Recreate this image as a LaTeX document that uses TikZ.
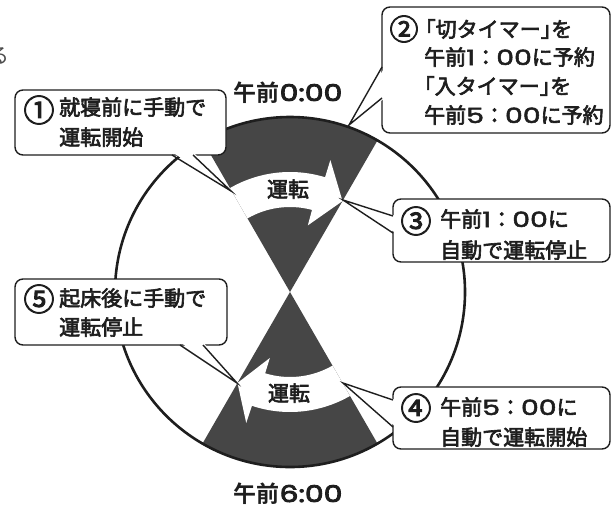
\documentclass[tikz,border=0pt]{standalone}
\usepackage{fontspec}
\usetikzlibrary{calc}
\setmainfont{Noto Sans CJK JP}[FakeBold=3]
\newfontfamily\jph{Noto Sans CJK JP}[FakeBold=3,RawFeature=+halt]
\newfontfamily\jpbold{Noto Sans CJK JP Bold}
\newfontfamily\jplight{Noto Sans CJK JP}
\newfontfamily\numf{Poppins}[FakeStretch=1.35,FakeBold=2.5]
\newfontfamily\numfb{Poppins}[FakeStretch=1.3,FakeBold=4]
\newcommand\dg[1]{{\numf #1}}
\newcommand\dgb[1]{{\numfb #1}}
\newcommand\hb[1]{{\jph #1}}
\definecolor{dk}{RGB}{70,70,70}
\definecolor{ink}{RGB}{30,30,30}
\tikzset{
  cbox/.style={draw=ink, line width=1.4pt, fill=white, rounded corners=8pt, rectangle, inner sep=0pt},
  tail/.style={draw=ink, line width=1.4pt, line join=miter},
  txt/.style={anchor=base west, inner sep=0pt, text=ink, font=\fontsize{21}{30}\selectfont},
  num/.style={anchor=center, inner sep=0pt, text=ink, font=\fontsize{31}{31}\selectfont},
  lbl/.style={anchor=base, inner sep=0pt, text=ink, font=\jpbold\fontsize{23}{28}\selectfont},
}
\begin{document}
\begin{tikzpicture}[x=1pt,y=-1pt]
\useasboundingbox (0,0) rectangle (616,509);
\coordinate (O) at (290,292);
% fragment
\node[anchor=base east, inner sep=0pt, text=ink!80, font=\jplight\fontsize{21}{21}\selectfont] (frag) at (10,63) {る};
% sectors
\fill[dk] (O) -- ++(-120:175) arc[start angle=-120,end angle=-60,radius=175] -- cycle;
\fill[dk] (O) -- ++(60:175) arc[start angle=60,end angle=120,radius=175] -- cycle;
% white arrow bands
\fill[white] ($(O)+(-120:120)$) arc[start angle=-120,end angle=-73,radius=120]
  -- ($(O)+(-73:138)$) -- ($(O)+(-60:105)$) -- ($(O)+(-75:69)$) -- ($(O)+(-75:85)$)
  arc[start angle=-75,end angle=-120,radius=85] -- cycle;
\fill[white] ($(O)+(60:120)$) arc[start angle=60,end angle=108.5,radius=120]
  -- ($(O)+(108.5:138)$) -- ($(O)+(120:105)$) -- ($(O)+(107:69)$) -- ($(O)+(107:85)$)
  arc[start angle=107,end angle=60,radius=85] -- cycle;
% circle
\draw[ink, line width=2.6pt] (O) circle[radius=175];
% band labels
\node[txt, anchor=base] (run1) at (288,197) {運転};
\node[txt, anchor=base] (run2) at (289,401) {運転};
% time labels
\node[lbl] (t0) at (288,101) {午前\dgb{0:00}};
\node[lbl] (t6) at (288,502) {午前\dgb{6:00}};
% callout boxes
\node[cbox, minimum width=211pt, minimum height=65pt] (b1) at (120.5,122.5) {};
\node[cbox, minimum width=228pt, minimum height=126pt] (b2) at (496,70) {};
\node[cbox, minimum width=217pt, minimum height=63pt] (b3) at (501.5,230.5) {};
\node[cbox, minimum width=217pt, minimum height=62pt] (b4) at (501.5,418) {};
\node[cbox, minimum width=212pt, minimum height=66pt] (b5) at (121,312) {};
% tail tips and bases
\coordinate (p1) at (231,191); \coordinate (a1) at (172,155); \coordinate (c1) at (193,155);
\coordinate (p2) at (349,125); \coordinate (a2) at (382,67);  \coordinate (c2) at (382,98);
\coordinate (p3) at (343,200); \coordinate (a3) at (393,216); \coordinate (c3) at (393,233);
\coordinate (p4) at (343,383); \coordinate (a4) at (393,400); \coordinate (c4) at (393,427);
\coordinate (p5) at (237,383); \coordinate (a5) at (180,345); \coordinate (c5) at (203,345);
% tails
\fill[white] ($(a1)+(0,-3)$) -- (p1) -- ($(c1)+(0,-3)$) -- cycle;
\draw[tail] (a1) -- (p1) -- (c1);
\fill[white] ($(a2)+(3,0)$) -- (p2) -- ($(c2)+(3,0)$) -- cycle;
\draw[tail] (a2) -- (p2) -- (c2);
\fill[white] ($(a3)+(3,0)$) -- (p3) -- ($(c3)+(3,0)$) -- cycle;
\draw[tail] (a3) -- (p3) -- (c3);
\fill[white] ($(a4)+(3,0)$) -- (p4) -- ($(c4)+(3,0)$) -- cycle;
\draw[tail] (a4) -- (p4) -- (c4);
\fill[white] ($(a5)+(0,-3)$) -- (p5) -- ($(c5)+(0,-3)$) -- cycle;
\draw[tail] (a5) -- (p5) -- (c5);
% callout 1
\node[num] (n1) at (39,110) {①};
\node[txt] (l11) at (59,115) {就寝前に手動で};
\node[txt] (l12) at (59,145) {運転開始};
% callout 2
\node[num, font=\fontsize{29}{29}\selectfont] (n2) at (404,29) {②};
\node[txt] (l21) at (425,37) {\hb{「}切タイマー\hb{」}を};
\node[txt] (l22) at (424,65) {午前\dg{1}：\dg{00}に予約};
\node[txt] (l23) at (424,94) {\hb{「}入タイマー\hb{」}を};
\node[txt] (l24) at (424,123) {午前\dg{5}：\dg{00}に予約};
% callout 3
\node[num] (n3) at (416,221) {③};
\node[txt] (l31) at (440,227) {午前\dg{1}：\dg{00}に};
\node[txt] (l32) at (440,258) {自動で運転停止};
% callout 4
\node[num] (n4) at (416,408) {④};
\node[txt] (l41) at (440,415) {午前\dg{5}：\dg{00}に};
\node[txt] (l42) at (440,445) {自動で運転開始};
% callout 5
\node[num] (n5) at (39,299) {⑤};
\node[txt] (l51) at (59,306) {起床後に手動で};
\node[txt] (l52) at (59,335) {運転停止};
\end{tikzpicture}
\end{document}
